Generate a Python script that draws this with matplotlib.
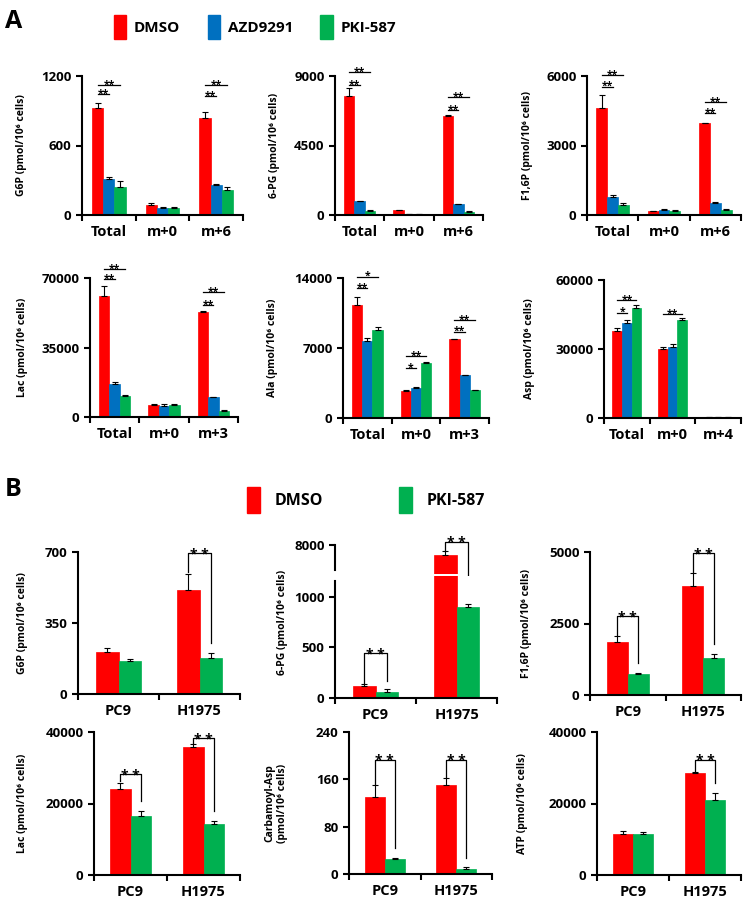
import matplotlib
matplotlib.use('Agg')
import matplotlib.pyplot as plt
from matplotlib.patches import Patch
import numpy as np

plt.rcParams['font.family'] = ['Open Sans', 'DejaVu Sans']
plt.rcParams['font.weight'] = 'bold'
plt.rcParams['axes.labelweight'] = 'bold'

RED = '#FF0000'
BLUE = '#0070C0'
GREEN = '#00B050'

# ---------------- panel A data (rows: DMSO, AZD9291, PKI-587) ----------------
series_a = ['DMSO', 'AZD9291', 'PKI-587']
groups_g6p_a = ['Total', 'm+0', 'm+6']
groups_lac_a = ['Total', 'm+0', 'm+3']
groups_asp_a = ['Total', 'm+0', 'm+4']

g6p_a = [[920, 85, 840], [310, 60, 255], [240, 60, 220]]
g6p_a_err = [[50, 20, 50], [15, 5, 15], [55, 5, 25]]
pg6_a = [[7700, 300, 6400], [900, 60, 700], [250, 60, 200]]
pg6_a_err = [[500, 30, 50], [30, 10, 30], [50, 10, 30]]
f16p_a = [[4600, 170, 3950], [780, 230, 530], [450, 190, 230]]
f16p_a_err = [[600, 20, 40], [100, 30, 30], [80, 20, 30]]
lac_a = [[61000, 6000, 53000], [16500, 5700, 10000], [10500, 6200, 3200]]
lac_a_err = [[5000, 300, 500], [1000, 800, 300], [500, 400, 300]]
ala_a = [[11300, 2700, 7900], [7700, 3000, 4300], [8800, 5500, 2800]]
ala_a_err = [[800, 100, 50], [300, 100, 50], [300, 100, 50]]
asp_a = [[38000, 30000, 500], [41500, 31000, 500], [48000, 42500, 500]]
asp_a_err = [[1000, 800, 50], [1200, 1000, 50], [1000, 1000, 50]]

# significance lines: (group, compared series, level, label)
g6p_a_sig = [(0, 1, 1045, '**'), (0, 2, 1123, '**'), (2, 1, 1025, '**'), (2, 2, 1120, '**')]
pg6_a_sig = [(0, 1, 8400, '**'), (0, 2, 9240, '**'), (2, 1, 6800, '**'), (2, 2, 7640, '**')]
f16p_a_sig = [(0, 1, 5540, '**'), (0, 2, 6040, '**'), (2, 1, 4400, '**'), (2, 2, 4870, '**')]
lac_a_sig = [(0, 1, 69300, '**'), (0, 2, 74400, '**'), (2, 1, 56400, '**'), (2, 2, 62800, '**')]
ala_a_sig = [(0, 1, 13000, '**'), (0, 2, 14130, '*'), (1, 1, 4970, '*'), (1, 2, 6170, '**'),
             (2, 1, 8630, '**'), (2, 2, 9800, '**')]
asp_a_sig = [(0, 1, 45800, '*'), (0, 2, 51300, '**'), (1, 2, 45200, '**')]

# ---------------- panel B data (rows: DMSO, PKI-587) ----------------
series_b = ['DMSO', 'PKI-587']
groups_b = ['PC9', 'H1975']

g6p_b = [[205, 513], [165, 178]]
g6p_b_err = [[22, 80], [10, 25]]
pg6_b = [[120, 7500], [55, 900]]
pg6_b_err = [[15, 170], [30, 30]]
f16p_b = [[1850, 3800], [750, 1300]]
f16p_b_err = [[200, 450], [30, 150]]
lac_b = [[24000, 35800], [16500, 14200]]
lac_b_err = [[1800, 800], [1500, 1000]]
carb_b = [[130, 150], [25, 9]]
carb_b_err = [[20, 12], [2, 2]]
atp_b = [[11500, 28500], [11500, 21000]]
atp_b_err = [[800, 300], [600, 1800]]

# bracket levels: (group, level)
g6p_b_sig = [(1, 695)]
pg6_b_sig = [(0, 441)]
f16p_b_sig = [(0, 2760), (1, 4965)]
lac_b_sig = [(0, 28250), (1, 38300)]
carb_b_sig = [(0, 193), (1, 193)]
atp_b_sig = [(1, 32200)]

W, H = 745, 900
fig = plt.figure(figsize=(W / 100, H / 100), dpi=100)


def px_axes(x0, x1, ytop, ybot):
    return fig.add_axes([x0 / W, 1 - ybot / H, (x1 - x0) / W, (ybot - ytop) / H])


def style_axes(ax, groups, ymax, yticks, ylabel, label_off):
    for s in ['top', 'right']:
        ax.spines[s].set_visible(False)
    for s in ['left', 'bottom']:
        ax.spines[s].set_linewidth(1.5)
    n = len(groups)
    ax.set_xlim(-0.5, n - 0.5)
    ax.set_ylim(0, ymax)
    ax.set_yticks(yticks)
    ax.tick_params(axis='y', direction='out', length=4, width=1.5, labelsize=9.5)
    ax.set_xticks(np.arange(n + 1) - 0.5)
    ax.set_xticklabels([])
    ax.tick_params(axis='x', which='major', direction='out', length=4, width=1.5)
    ax.set_xticks(np.arange(n), minor=True)
    ax.set_xticklabels(groups, minor=True, fontsize=10.5)
    ax.tick_params(axis='x', which='minor', length=0, pad=7)
    ax.set_ylabel(ylabel, fontsize=7.5)
    ax.yaxis.set_label_coords(label_off, 0.5)


def bars(ax, vals, errs, colors, width):
    n = len(vals)
    x = np.arange(len(vals[0]))
    for j in range(n):
        xo = x + (j - (n - 1) / 2) * width
        ax.bar(xo, vals[j], width, color=colors[j], edgecolor=colors[j], linewidth=0.5)
        ax.errorbar(xo, vals[j], yerr=[np.zeros(len(vals[j])), errs[j]], fmt='none',
                    ecolor='black', elinewidth=0.8, capsize=2.5, capthick=0.8)


def sig_a(ax, sigs, width):
    for g, j, level, lab in sigs:
        x0 = g - width
        x1 = g + (j - 1) * width
        ax.plot([x0, x1], [level, level], color='black', lw=0.9, clip_on=False)
        ax.annotate(lab, ((x0 + x1) / 2, level), xytext=(0, -1.8), textcoords='offset points',
                    ha='center', va='baseline', fontsize=7.5, annotation_clip=False)


def sig_b(ax, sigs, vals, errs, width, ymax):
    for g, level in sigs:
        xl = g - width / 2
        xr = g + width / 2
        yl = vals[0][g] + errs[0][g] + 0.01 * ymax
        yr = vals[1][g] + errs[1][g] + 0.07 * ymax
        ax.plot([xl, xl, xr, xr], [yl, level, level, yr], color='black', lw=0.9, clip_on=False)
        ax.annotate('* *', (g, level), xytext=(0, -4), textcoords='offset points',
                    ha='center', va='baseline', fontsize=10, annotation_clip=False)


wa = 0.21
cols_a = [RED, BLUE, GREEN]

ax = px_axes(82, 243, 76, 215)
bars(ax, g6p_a, g6p_a_err, cols_a, wa)
style_axes(ax, groups_g6p_a, 1200, [0, 600, 1200], 'G6P (pmol/10⁶ cells)', -55 / 161)
sig_a(ax, g6p_a_sig, wa)

ax = px_axes(335, 483, 76, 215)
bars(ax, pg6_a, pg6_a_err, cols_a, wa)
style_axes(ax, groups_g6p_a, 9000, [0, 4500, 9000], '6-PG (pmol/10⁶ cells)', -55 / 148)
sig_a(ax, pg6_a_sig, wa)

ax = px_axes(587, 741, 76, 215)
bars(ax, f16p_a, f16p_a_err, cols_a, wa)
style_axes(ax, groups_g6p_a, 6000, [0, 3000, 6000], 'F1,6P (pmol/10⁶ cells)', -54 / 154)
sig_a(ax, f16p_a_sig, wa)

ax = px_axes(90, 238, 278, 417)
bars(ax, lac_a, lac_a_err, cols_a, wa)
style_axes(ax, groups_lac_a, 70000, [0, 35000, 70000], 'Lac (pmol/10⁶ cells)', -62 / 148)
sig_a(ax, lac_a_sig, wa)

ax = px_axes(343, 489, 278, 418)
bars(ax, ala_a, ala_a_err, cols_a, wa)
style_axes(ax, groups_lac_a, 14000, [0, 7000, 14000], 'Ala (pmol/10⁶ cells)', -65 / 146)
sig_a(ax, ala_a_sig, wa)

ax = px_axes(604, 741, 280, 418)
bars(ax, asp_a, asp_a_err, cols_a, wa)
style_axes(ax, groups_asp_a, 60000, [0, 30000, 60000], 'Asp (pmol/10⁶ cells)', -69 / 137)
sig_a(ax, asp_a_sig, wa)

wb = 0.28
cols_b = [RED, GREEN]

ax = px_axes(78, 240, 552, 694)
bars(ax, g6p_b, g6p_b_err, cols_b, wb)
style_axes(ax, groups_b, 700, [0, 350, 700], 'G6P (pmol/10⁶ cells)', -50 / 162)
sig_b(ax, g6p_b_sig, g6p_b, g6p_b_err, wb, 700)

# broken axis for 6-PG
ax_hi = px_axes(335, 497, 545, 574)
ax_lo = px_axes(335, 497, 576, 698)
for a, lo, hi in [(ax_hi, 6500, 8000), (ax_lo, 0, 1206)]:
    bars(a, pg6_b, pg6_b_err, cols_b, wb)
    for s in ['top', 'right']:
        a.spines[s].set_visible(False)
    for s in ['left', 'bottom']:
        a.spines[s].set_linewidth(1.5)
    a.set_xlim(-0.5, 1.5)
    a.set_ylim(lo, hi)
    a.tick_params(axis='y', direction='out', length=4, width=1.5, labelsize=9.5)
ax_hi.set_yticks([8000])
ax_hi.spines['left'].set_bounds(6720, 8000)
ax_hi.spines['bottom'].set_visible(False)
ax_hi.set_xticks([])
ax_lo.spines['left'].set_bounds(0, 1157)
ax_lo.set_yticks([0, 500, 1000])
ax_lo.set_xticks([-0.5, 0.5, 1.5])
ax_lo.set_xticklabels([])
ax_lo.tick_params(axis='x', which='major', direction='out', length=4, width=1.5)
ax_lo.set_xticks([0, 1], minor=True)
ax_lo.set_xticklabels(groups_b, minor=True, fontsize=10.5)
ax_lo.tick_params(axis='x', which='minor', length=0, pad=7)
fig.text(283 / W, 1 - 622 / H, '6-PG (pmol/10⁶ cells)', rotation=90, ha='center', va='center', fontsize=7.5)
sig_b(ax_lo, pg6_b_sig, pg6_b, pg6_b_err, wb, 1157)
# H1975 bracket spans both parts
g = 1
xl, xr = g - wb / 2, g + wb / 2
lvl = pg6_b[0][g] + pg6_b_err[0][g] + 500
ydisp = ax_lo.transData.transform((0, pg6_b[1][g] + pg6_b_err[1][g] + 150))[1]
yr = ax_hi.transData.inverted().transform((0, ydisp))[1]
ax_hi.plot([xl, xl, xr, xr], [pg6_b[0][g] + pg6_b_err[0][g], lvl, lvl, yr], color='black', lw=0.9, clip_on=False)
ax_hi.annotate('* *', (g, lvl), xytext=(0, -4), textcoords='offset points',
               ha='center', va='baseline', fontsize=10, annotation_clip=False)

ax = px_axes(590, 741, 552, 695)
bars(ax, f16p_b, f16p_b_err, cols_b, wb)
style_axes(ax, groups_b, 5000, [0, 2500, 5000], 'F1,6P (pmol/10⁶ cells)', -58 / 151)
sig_b(ax, f16p_b_sig, f16p_b, f16p_b_err, wb, 5000)

ax = px_axes(94, 240, 732, 875)
bars(ax, lac_b, lac_b_err, cols_b, wb)
style_axes(ax, groups_b, 40000, [0, 20000, 40000], 'Lac (pmol/10⁶ cells)', -66 / 146)
sig_b(ax, lac_b_sig, lac_b, lac_b_err, wb, 40000)

ax = px_axes(349, 492, 732, 874)
bars(ax, carb_b, carb_b_err, cols_b, wb)
style_axes(ax, groups_b, 240, [0, 80, 160, 240], 'Carbamoyl-Asp\n(pmol/10⁶ cells)', -61 / 143)
sig_b(ax, carb_b_sig, carb_b, carb_b_err, wb, 240)

ax = px_axes(597, 741, 732, 875)
bars(ax, atp_b, atp_b_err, cols_b, wb)
style_axes(ax, groups_b, 40000, [0, 20000, 40000], 'ATP (pmol/10⁶ cells)', -69 / 144)
sig_b(ax, atp_b_sig, atp_b, atp_b_err, wb, 40000)

# legends and panel letters
handles_a = [Patch(color=c, label=l) for c, l in zip(cols_a, series_a)]
fig.legend(handles=handles_a, loc='center', bbox_to_anchor=(255 / W, 1 - 27 / H), ncol=3,
           frameon=False, handlelength=0.8, handleheight=2.1, columnspacing=1.8,
           handletextpad=0.5, prop={'size': 11, 'weight': 'bold'})
handles_b = [Patch(color=c, label=l) for c, l in zip(cols_b, series_b)]
fig.legend(handles=handles_b, loc='center', bbox_to_anchor=(366 / W, 1 - 500 / H), ncol=2,
           frameon=False, handlelength=0.8, handleheight=2.1, columnspacing=4.8,
           handletextpad=0.9, prop={'size': 11.5, 'weight': 'bold'})
fig.text(5 / W, 1 - 21 / H, 'A', fontsize=18, va='center')
fig.text(5 / W, 1 - 490 / H, 'B', fontsize=18, va='center')

fig.savefig('out.png', dpi=100)
